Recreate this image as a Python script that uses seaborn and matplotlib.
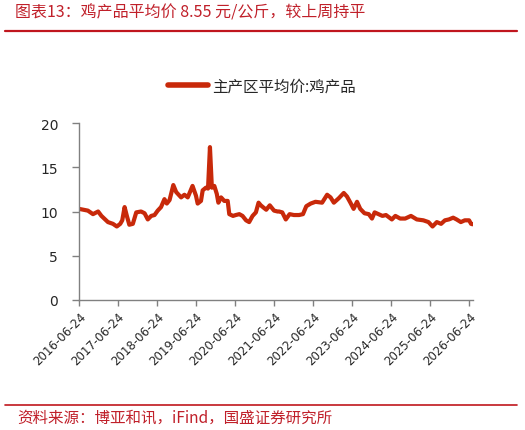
import matplotlib
matplotlib.use("Agg")
import matplotlib.pyplot as plt
import seaborn as sns
import pandas as pd

dates = [
    "2016-06-24", "2016-09-15", "2016-11-02", "2016-12-20", "2017-01-20", "2017-03-22",
    "2017-05-08", "2017-06-13", "2017-07-15", "2017-08-03", "2017-08-25", "2017-09-15",
    "2017-10-08", "2017-11-10", "2017-12-12", "2018-01-26", "2018-02-28", "2018-03-30",
    "2018-05-01", "2018-06-01", "2018-07-01", "2018-08-01", "2018-09-02", "2018-09-24",
    "2018-10-20", "2018-11-24", "2018-12-21", "2019-02-05", "2019-03-08", "2019-04-08",
    "2019-05-23", "2019-06-24", "2019-07-10", "2019-08-10", "2019-08-26", "2019-09-25",
    "2019-10-15", "2019-11-02", "2019-11-20", "2019-12-13", "2020-01-05", "2020-01-20",
    "2020-02-14", "2020-03-15", "2020-04-16", "2020-05-01", "2020-06-05", "2020-07-01",
    "2020-08-03", "2020-09-02", "2020-10-05", "2020-11-03", "2020-12-05", "2021-01-05",
    "2021-01-30", "2021-02-20", "2021-03-22", "2021-04-12", "2021-05-15", "2021-06-24",
    "2021-07-27", "2021-08-10", "2021-09-09", "2021-10-12", "2021-11-17", "2021-12-27",
    "2022-02-13", "2022-03-22", "2022-04-22", "2022-06-02", "2022-07-17", "2022-09-17",
    "2022-11-03", "2022-12-05", "2023-01-05", "2023-02-20", "2023-04-08", "2023-05-08",
    "2023-06-09", "2023-07-09", "2023-08-10", "2023-09-09", "2023-10-19", "2023-11-28",
    "2023-12-28", "2024-01-22", "2024-02-27", "2024-04-04", "2024-05-07", "2024-07-01",
    "2024-08-03", "2024-09-17", "2024-11-03", "2024-12-27", "2025-02-20", "2025-04-22",
    "2025-06-09", "2025-07-17", "2025-08-26", "2025-10-05", "2025-11-10", "2025-12-17",
    "2026-01-26", "2026-02-27", "2026-04-08", "2026-05-15", "2026-06-24", "2026-07-13",
    "2026-07-27",
]
prices = [
    10.3, 10.1, 9.7, 10.0, 9.5, 8.8,
    8.6, 8.3, 8.6, 9.0, 10.5, 9.5,
    8.5, 8.6, 9.9, 10.0, 9.8, 9.1,
    9.5, 9.6, 10.1, 10.5, 11.4, 10.9,
    11.3, 13.0, 12.2, 11.6, 11.9, 11.6,
    12.9, 11.8, 10.9, 11.2, 12.4, 12.7,
    12.6, 17.3, 12.7, 12.9, 12.0, 11.0,
    11.6, 11.2, 11.2, 9.7, 9.5, 9.6,
    9.7, 9.5, 9.0, 8.8, 9.5, 9.9,
    11.0, 10.7, 10.4, 10.2, 10.7, 10.1,
    10.0, 10.0, 9.9, 9.1, 9.7, 9.6,
    9.6, 9.7, 10.6, 10.9, 11.1, 11.0,
    11.9, 11.6, 11.0, 11.5, 12.1, 11.7,
    11.0, 10.3, 11.1, 10.3, 9.8, 9.7,
    9.2, 9.9, 9.7, 9.5, 9.6, 9.1,
    9.5, 9.2, 9.2, 9.5, 9.1, 9.0,
    8.8, 8.3, 8.8, 8.6, 9.0, 9.1,
    9.3, 9.1, 8.8, 9.0, 9.0, 8.6,
    8.55,
]
series_name = "主产区平均价:鸡产品"
tick_labels = ["2016-06-24", "2017-06-24", "2018-06-24", "2019-06-24", "2020-06-24",
               "2021-06-24", "2022-06-24", "2023-06-24", "2024-06-24", "2025-06-24",
               "2026-06-24"]
y_ticks = [0, 5, 10, 15, 20]
title = "图表13：鸡产品平均价 8.55 元/公斤，较上周持平"
source = "资料来源：博亚和讯，iFind，国盛证券研究所"

sns.set_style("white")
plt.rcParams['font.family'] = ['Noto Sans CJK SC', 'DejaVu Sans']

df = pd.DataFrame({"date": pd.to_datetime(dates), "value": prices, "series": series_name})

fig = plt.figure(figsize=(5.25, 4.31), dpi=100)
ax = fig.add_axes([79 / 525, 1 - 300.7 / 431, (472.7 - 79) / 525, (300.7 - 124.3) / 431])

line_color = "#C8290A"
sns.lineplot(data=df, x="date", y="value", hue="series", palette=[line_color],
             linewidth=3.0, ax=ax, legend=True)

ax.set_xlim(pd.Timestamp("2016-06-24"), pd.Timestamp("2026-07-28"))
ax.set_ylim(0, 20)
ax.set_yticks(y_ticks)
ax.set_yticklabels([str(v) for v in y_ticks], fontsize=10, family=['DejaVu Sans'])
ax.set_xticks(pd.to_datetime(tick_labels))
ax.set_xticklabels(tick_labels, rotation=45, ha="right", rotation_mode="anchor",
                   fontsize=8.5, family=['DejaVu Sans'])
ax.set_xlabel("")
ax.set_ylabel("")

for s in ["top", "right"]:
    ax.spines[s].set_visible(False)
for s in ["left", "bottom"]:
    ax.spines[s].set_color("#808080")
    ax.spines[s].set_linewidth(1.0)
ax.tick_params(axis="y", direction="out", length=5, width=1, color="#808080",
               left=True, pad=10)
ax.tick_params(axis="x", direction="out", length=4, width=1, color="#808080",
               bottom=True, pad=3)

leg = ax.legend(loc="center", bbox_to_anchor=(0.465, 1.0 + (124.3 - 87) / 176.4),
                frameon=False, fontsize=11.2, handlelength=2.6, handletextpad=0.25)
for h in leg.get_lines():
    h.set_linewidth(4)

fig.text(15 / 525, 1 - 13 / 431, title, color="#C0202A", fontsize=11.5, style="italic",
         ha="left", va="center")
fig.add_artist(plt.Line2D([5 / 525, 517 / 525], [1 - 32 / 431, 1 - 32 / 431],
                          color="#C0161E", linewidth=1.6, transform=fig.transFigure))
fig.add_artist(plt.Line2D([5 / 525, 517 / 525], [1 - 405.7 / 431, 1 - 405.7 / 431],
                          color="#C0161E", linewidth=1.2, transform=fig.transFigure))
fig.text(17 / 525, 1 - 418 / 431, source, color="#C0202A", fontsize=11.2, style="italic",
         ha="left", va="center")

fig.savefig("out.png", dpi=100)
